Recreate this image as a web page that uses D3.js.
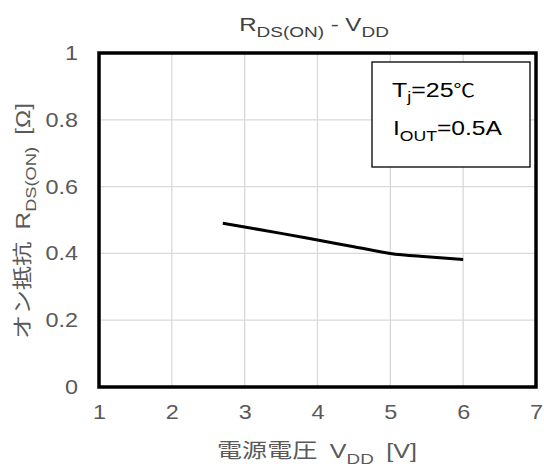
<!DOCTYPE html>
<html><head><meta charset="utf-8">
<script src="https://cdn.jsdelivr.net/npm/d3@7"></script>
<style>body{margin:0;background:#fff}svg{display:block}text{font-family:"Liberation Sans",Arial,sans-serif}</style>
</head><body>
<svg id="c" width="544" height="471"></svg>
<script>
const vdd = [2.7, 3.0, 3.5, 4.0, 4.5, 5.0, 5.5, 6.0];
const rdson = [0.49, 0.479, 0.46, 0.44, 0.42, 0.40, 0.39, 0.382];
const xTicks = [1, 2, 3, 4, 5, 6, 7];
const yTicks = [0, 0.2, 0.4, 0.6, 0.8, 1];

const svg = d3.select("#c");
const L = 99, R = 536, T = 53, B = 387;
const SX = 1.17; // horizontal stretch of the reference lettering
const x = d3.scaleLinear().domain([1, 7]).range([L, R]);
const y = d3.scaleLinear().domain([0, 1]).range([B, T]);
const jp = '"Noto Sans CJK JP","Liberation Sans",sans-serif';

// place a text group at (px,py) and stretch it to a target extent
function fit(g, px, py, target, rotate, anchor) {
  const w = g.node().getBBox().width;
  const k = target / w;
  g.attr("transform", rotate ? `translate(${px},${py}) rotate(-90) scale(${k},1)`
                             : `translate(${px},${py}) scale(${k},1)`)
   .attr("text-anchor", anchor || "middle");
}

// grid
svg.append("g").selectAll("line").data(xTicks.slice(1, -1)).join("line")
  .attr("x1", d => x(d)).attr("x2", d => x(d)).attr("y1", T).attr("y2", B)
  .attr("stroke", "#d9d9d9").attr("stroke-width", 1.3);
svg.append("g").selectAll("line").data(yTicks.slice(1, -1)).join("line")
  .attr("y1", d => y(d)).attr("y2", d => y(d)).attr("x1", L).attr("x2", R)
  .attr("stroke", "#d9d9d9").attr("stroke-width", 1.3);

// axes tick labels
const xa = svg.append("g").attr("transform", `translate(0,${B})`)
  .call(d3.axisBottom(x).tickValues(xTicks).tickFormat(d3.format("d")).tickSize(0).tickPadding(18));
xa.select(".domain").remove();
xa.selectAll("text").attr("font-size", 20).attr("fill", "#595959")
  .attr("font-family", "Liberation Sans, Arial, sans-serif").attr("transform", `scale(${SX},1)`);
const ya = svg.append("g").attr("transform", `translate(${L},0)`)
  .call(d3.axisLeft(y).tickValues(yTicks).tickFormat(d => d === 0 || d === 1 ? String(d) : d.toFixed(1)).tickSize(0).tickPadding(18));
ya.select(".domain").remove();
ya.selectAll("text").attr("font-size", 20).attr("fill", "#595959")
  .attr("font-family", "Liberation Sans, Arial, sans-serif").attr("transform", `scale(${SX},1)`);

// line
svg.append("path").datum(vdd.map((v, i) => [v, rdson[i]]))
  .attr("d", d3.line().x(d => x(d[0])).y(d => y(d[1])).curve(d3.curveMonotoneX))
  .attr("fill", "none").attr("stroke", "#000").attr("stroke-width", 3);

// frame
svg.append("rect").attr("x", L).attr("y", T).attr("width", R - L).attr("height", B - T)
  .attr("fill", "none").attr("stroke", "#000").attr("stroke-width", 3.5);

// legend box
svg.append("rect").attr("x", 372).attr("y", 62).attr("width", 158).attr("height", 105)
  .attr("fill", "#fff").attr("stroke", "#000").attr("stroke-width", 1.3);
const t1 = svg.append("text").attr("font-size", 21).attr("fill", "#000");
t1.append("tspan").text("T");
t1.append("tspan").attr("font-size", 15).attr("dy", 5).text("j");
t1.append("tspan").attr("dy", -5).text("=25");
t1.append("tspan").attr("font-family", jp).attr("font-size", 18).text("℃");
fit(t1, 392, 97, 83, false, "start");
const t2 = svg.append("text").attr("font-size", 21).attr("fill", "#000");
t2.append("tspan").text("I");
t2.append("tspan").attr("font-size", 15).attr("dy", 6).text("OUT");
t2.append("tspan").attr("dy", -6).text("=0.5A");
fit(t2, 393, 135, 109, false, "start");

// title
const tt = svg.append("text").attr("font-size", 19).attr("fill", "#404040");
tt.append("tspan").text("R");
tt.append("tspan").attr("font-size", 15).attr("dy", 6).text("DS(ON)");
tt.append("tspan").attr("dy", -6).text(" - V");
tt.append("tspan").attr("font-size", 15).attr("dy", 6).text("DD");
fit(tt, 314, 31, 150);

// x title
const xt = svg.append("text").attr("font-size", 20).attr("fill", "#595959");
xt.append("tspan").attr("font-family", jp).text("電源電圧");
xt.append("tspan").attr("dx", 10).text("V");
xt.append("tspan").attr("font-size", 15).attr("dy", 6).text("DD");
xt.append("tspan").attr("dy", -6).attr("dx", 10).text("[V]");
fit(xt, 317, 458, 200);

// y title
const yt = svg.append("text").attr("font-size", 20).attr("fill", "#595959");
yt.append("tspan").attr("font-family", jp).text("オン抵抗");
yt.append("tspan").attr("dx", 10).text("R");
yt.append("tspan").attr("font-size", 15).attr("dy", 6).text("DS(ON)");
yt.append("tspan").attr("dy", -6).attr("dx", 10).text("[Ω]");
fit(yt, 30, 221, 236, true);
</script>
</body></html>
